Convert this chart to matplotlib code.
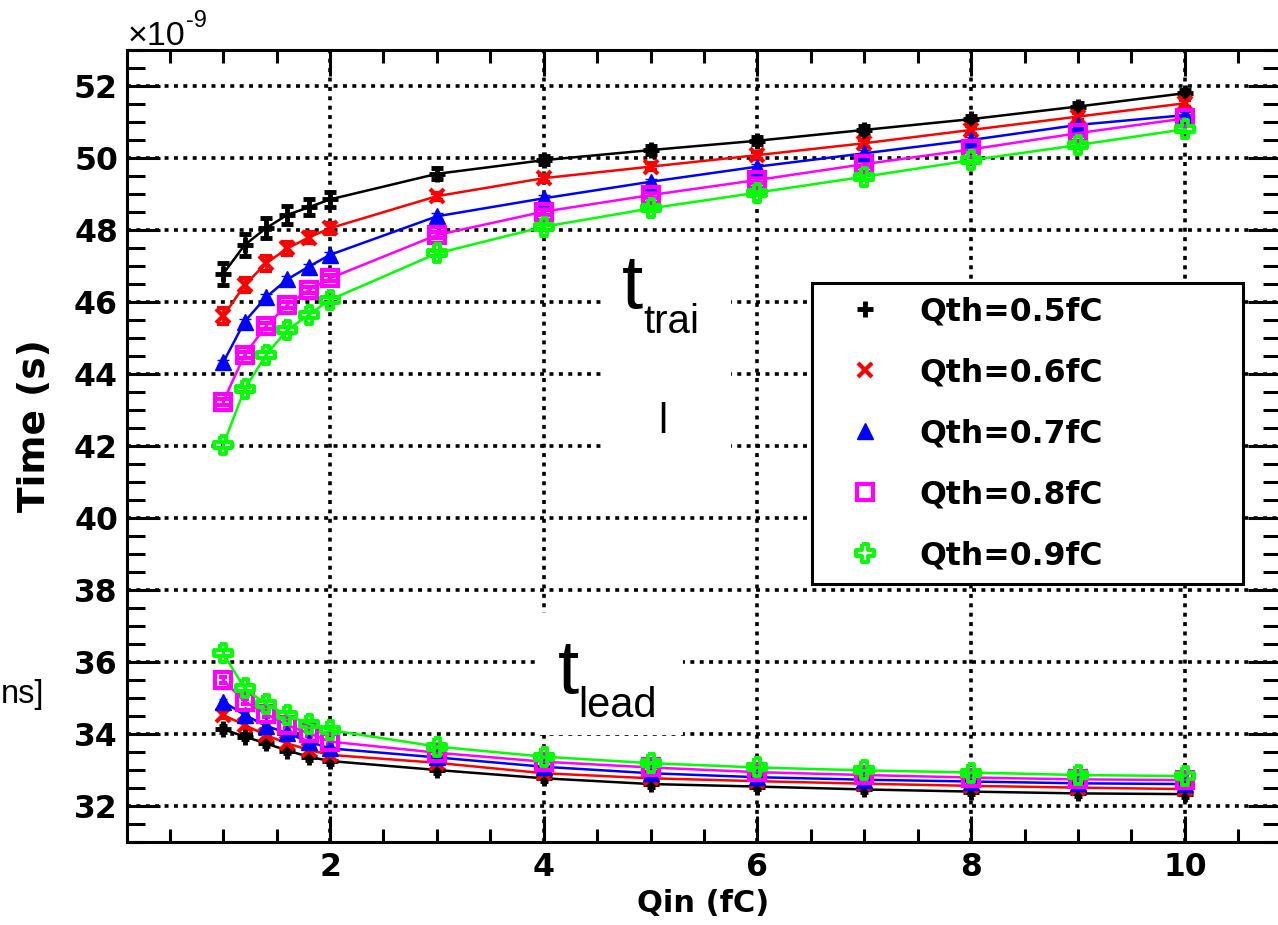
import numpy as np
import matplotlib.pyplot as plt
from matplotlib.lines import Line2D
from matplotlib.patches import Rectangle
from matplotlib.ticker import MultipleLocator

plt.rcParams['font.family'] = ['DejaVu Sans']
plt.rcParams['font.weight'] = 'bold'
thin = ['Liberation Sans', 'DejaVu Sans']

# input charge (fC)
qin = [1.0, 1.2, 1.4, 1.6, 1.8, 2.0, 3, 4, 5, 6, 7, 8, 9, 10]
labels = ["Qth=0.5fC", "Qth=0.6fC", "Qth=0.7fC", "Qth=0.8fC", "Qth=0.9fC"]

# trailing edge time (ns) per threshold
trail_05 = [46.78, 47.58, 48.05, 48.42, 48.63, 48.85, 49.56, 49.94, 50.22, 50.48, 50.78, 51.08, 51.43, 51.80]
trail_06 = [45.60, 46.47, 47.07, 47.49, 47.79, 48.05, 48.94, 49.44, 49.76, 50.08, 50.41, 50.78, 51.15, 51.52]
trail_07 = [44.32, 45.45, 46.13, 46.63, 46.98, 47.31, 48.38, 48.88, 49.34, 49.76, 50.13, 50.50, 50.92, 51.19]
trail_08 = [43.23, 44.53, 45.33, 45.92, 46.33, 46.66, 47.86, 48.51, 48.97, 49.39, 49.83, 50.24, 50.69, 51.10]
trail_09 = [42.03, 43.57, 44.53, 45.22, 45.64, 46.06, 47.35, 48.09, 48.60, 49.04, 49.48, 49.94, 50.36, 50.80]

# leading edge time (ns) per threshold
lead_05 = [34.13, 33.93, 33.74, 33.54, 33.37, 33.25, 33.00, 32.77, 32.61, 32.54, 32.46, 32.40, 32.35, 32.33]
lead_06 = [34.53, 34.25, 33.97, 33.74, 33.56, 33.42, 33.20, 32.91, 32.77, 32.69, 32.62, 32.56, 32.51, 32.47]
lead_07 = [34.90, 34.53, 34.23, 34.02, 33.79, 33.60, 33.35, 33.09, 32.91, 32.80, 32.73, 32.68, 32.63, 32.61]
lead_08 = [35.50, 34.90, 34.56, 34.25, 34.02, 33.79, 33.48, 33.23, 33.07, 32.94, 32.86, 32.79, 32.74, 32.72]
lead_09 = [36.24, 35.27, 34.83, 34.53, 34.28, 34.11, 33.65, 33.37, 33.19, 33.07, 32.99, 32.93, 32.86, 32.83]

# errors (ns)
err_trail_05 = [0.30, 0.30, 0.28, 0.25, 0.22, 0.21, 0.15, 0.12, 0.12, 0.10, 0.10, 0.10, 0.10, 0.10]
err_trail_06 = [0.22, 0.20, 0.20, 0.18, 0.16, 0.15, 0.10, 0.10, 0.10, 0.10, 0.10, 0.10, 0.10, 0.10]
err_small = [0.08] * len(qin)

# open cross marker (ROOT style 28)
a = 1 / 3
open_cross = [(-a, 1), (a, 1), (a, a), (1, a), (1, -a), (a, -a), (a, -1),
              (-a, -1), (-a, -a), (-1, -a), (-1, a), (-a, a), (-a, 1)]

styles = [
    dict(color='black', marker='+', ms=11, mew=3.5, mfc='black'),
    dict(color='red', marker='x', ms=10, mew=3.0, mfc='red'),
    dict(color='blue', marker='^', ms=12, mew=1.0, mfc='blue'),
    dict(color='magenta', marker='s', ms=12, mew=3.0, mfc='none'),
    dict(color='#00ff00', marker=open_cross, ms=13, mew=2.8, mfc='none'),
]

trail = [trail_05, trail_06, trail_07, trail_08, trail_09]
lead = [lead_05, lead_06, lead_07, lead_08, lead_09]
trail_err = [err_trail_05, err_trail_06, err_small, err_small, err_small]

fig = plt.figure(figsize=(12.78, 9.25), dpi=100)
ax = fig.add_axes([127 / 1278, 1 - 842 / 925, 1154 / 1278, 792 / 925])

for vals, errs, st in zip(trail, trail_err, styles):
    ax.errorbar(qin, vals, yerr=errs, color=st['color'], marker=st['marker'],
                ms=st['ms'], mew=st['mew'], mfc=st['mfc'], mec=st['color'],
                lw=1.8, elinewidth=2, capsize=4.3, capthick=2, zorder=3)
for vals, st in zip(lead, styles):
    ax.errorbar(qin, vals, yerr=err_small, color=st['color'], marker=st['marker'],
                ms=st['ms'], mew=st['mew'], mfc=st['mfc'], mec=st['color'],
                lw=1.8, elinewidth=2, capsize=3, capthick=2, zorder=3)

ax.set_xlim(0.1, 10.9)
ax.set_ylim(31, 53)
ax.xaxis.set_major_locator(MultipleLocator(2))
ax.xaxis.set_minor_locator(MultipleLocator(0.5))
ax.yaxis.set_major_locator(MultipleLocator(2))
ax.yaxis.set_minor_locator(MultipleLocator(0.5))

ax.grid(True, which='major', color='black', linestyle=(0, (1.1, 1.5)), linewidth=2.6, zorder=0)
ax.set_axisbelow(True)

for sp in ax.spines.values():
    sp.set_linewidth(2.2)
ax.tick_params(which='both', direction='in', top=True, right=True, width=2.2, labelsize=22.7)
ax.tick_params(axis='x', which='major', length=18.7, pad=7)
ax.tick_params(axis='x', which='minor', length=9.4)
ax.tick_params(axis='y', which='major', length=23.8, pad=6.5)
ax.tick_params(axis='y', which='minor', length=13)

# white label panels over the grid
ax.add_patch(Rectangle((4.546, 41.2), 1.207, 6.4, facecolor='white', edgecolor='none', zorder=1))
ax.add_patch(Rectangle((3.935, 33.97), 1.37, 3.39, facecolor='white', edgecolor='none', zorder=1))

ax.text(4.733, 45.83, "t", fontsize=55, family=thin, fontweight='normal', zorder=4)
ax.text(4.93, 45.14, "trai", fontsize=29, family=thin, fontweight='normal', zorder=4)
ax.text(5.07, 42.36, "l", fontsize=30, family=thin, fontweight='normal', zorder=4)
ax.text(4.134, 35.14, "t", fontsize=55, family=thin, fontweight='normal', zorder=4)
ax.text(4.32, 34.47, "lead", fontsize=30, family=thin, fontweight='normal', zorder=4)

# axis titles and exponent
fig.text(703 / 1278, 1 - 912 / 925, "Qin (fC)", fontsize=22, ha='center', va='baseline')
fig.text(35 / 1278, 1 - 426 / 925, "Time (s)", fontsize=27, rotation=90, ha='center', va='center')
fig.text(128 / 1278, 1 - 45 / 925, "\u00d710", fontsize=24.5, family=thin, fontweight='normal', va='baseline')
fig.text(186 / 1278, 1 - 27 / 925, "-9", fontsize=17, family=thin, fontweight='normal', va='baseline')
fig.text(0.5 / 1278, 1 - 703 / 925, "ns]", fontsize=23.5, family=thin, fontweight='normal', ha='left', va='baseline')

handles = [Line2D([], [], linestyle='none', color=st['color'], marker=st['marker'],
                  ms=st['ms'], mew=st['mew'], mfc=st['mfc'], mec=st['color'])
           for st in styles]
leg = ax.legend(handles, labels, loc='upper left', mode='expand',
                bbox_to_anchor=(812 / 1278, 1 - 582 / 925, 431 / 1278, 299 / 925),
                bbox_transform=fig.transFigure, borderaxespad=0,
                fontsize=22.7, fancybox=False, framealpha=1, edgecolor='black',
                borderpad=0.42, labelspacing=0.95, handlelength=2.5, handletextpad=0.5,
                numpoints=1)
leg.get_frame().set_linewidth(2.2)
leg.set_zorder(5)

fig.savefig("out.png", dpi=100)
